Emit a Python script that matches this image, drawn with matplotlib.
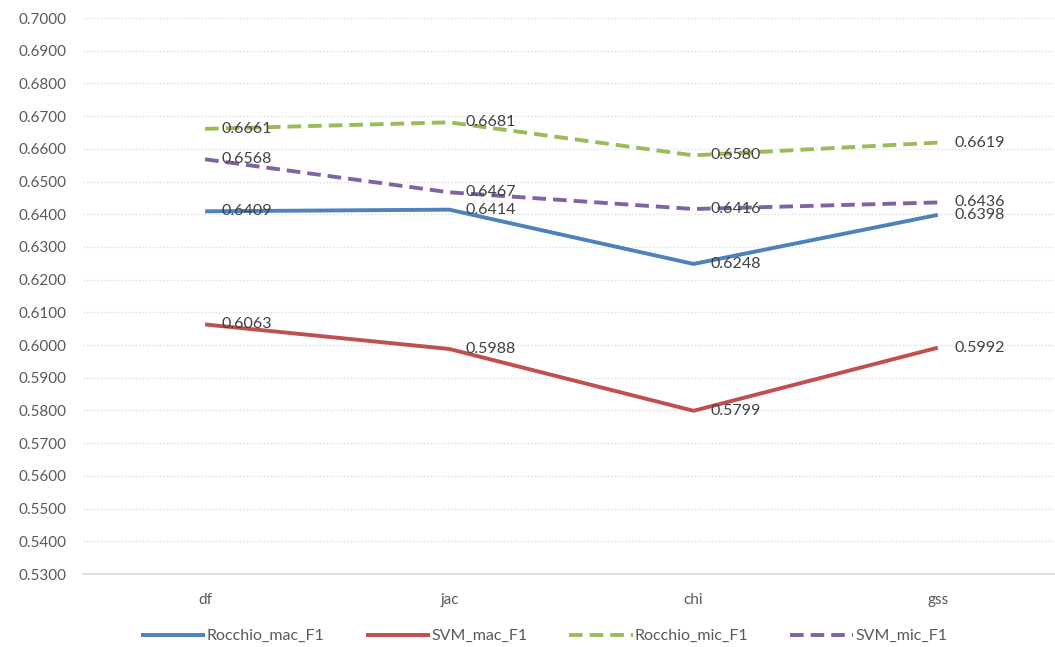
import matplotlib
matplotlib.use("Agg")
import matplotlib.pyplot as plt
from matplotlib.ticker import MultipleLocator, FormatStrFormatter

categories = ["df", "jac", "chi", "gss"]
rocchio_mac = [0.6409, 0.6414, 0.6248, 0.6398]
svm_mac = [0.6063, 0.5988, 0.5799, 0.5992]
rocchio_mic = [0.6661, 0.6681, 0.6580, 0.6619]
svm_mic = [0.6568, 0.6467, 0.6416, 0.6436]

series = [
    ("Rocchio_mac_F1", rocchio_mac, "#4F81BD", "solid"),
    ("SVM_mac_F1", svm_mac, "#C0504D", "solid"),
    ("Rocchio_mic_F1", rocchio_mic, "#9BBB59", "dashed"),
    ("SVM_mic_F1", svm_mic, "#8064A2", "dashed"),
]

plt.rcParams["font.family"] = ["Lato", "DejaVu Sans"]

fig = plt.figure(figsize=(10.55, 6.47), dpi=100)
ax = fig.add_axes([83 / 1055, 1 - 574 / 647, 1 - 83 / 1055, (574 - 18) / 647])

x = list(range(len(categories)))
for name, vals, color, style in series:
    kw = dict(color=color, lw=2.8, label=name, solid_capstyle="butt")
    if style == "dashed":
        kw["dashes"] = (3.5, 1.8)
    ax.plot(x, vals, **kw)
    for xi, v in zip(x, vals):
        ax.annotate(f"{v:.4f}", (xi, v), xytext=(12, 0), textcoords="offset points",
                    va="center", ha="left", fontsize=11.5, color="#404040")

ax.set_xlim(-0.5, 3.48)
ax.set_ylim(0.53, 0.70)
ax.yaxis.set_major_locator(MultipleLocator(0.01))
ax.yaxis.set_major_formatter(FormatStrFormatter("%.4f"))
ax.set_xticks(x)
ax.set_xticklabels(categories)
ax.tick_params(axis="both", length=0, labelsize=11, colors="#595959", pad=12)
ax.tick_params(axis="x", pad=14)
ax.grid(axis="y", color="#dedede", lw=1, ls=(0, (1, 1.5)))
ax.set_axisbelow(True)
for s in ["top", "right", "left"]:
    ax.spines[s].set_visible(False)
ax.spines["bottom"].set_color("#d9d9d9")
ax.spines["bottom"].set_linewidth(1.2)

fig.legend(loc="center", bbox_to_anchor=(544 / 1055, 1 - 636 / 647), ncol=4,
           frameon=False, fontsize=11.5, handlelength=4.0, columnspacing=2.6,
           handletextpad=0.1, labelcolor="#595959")

fig.savefig("out.png", dpi=100)
